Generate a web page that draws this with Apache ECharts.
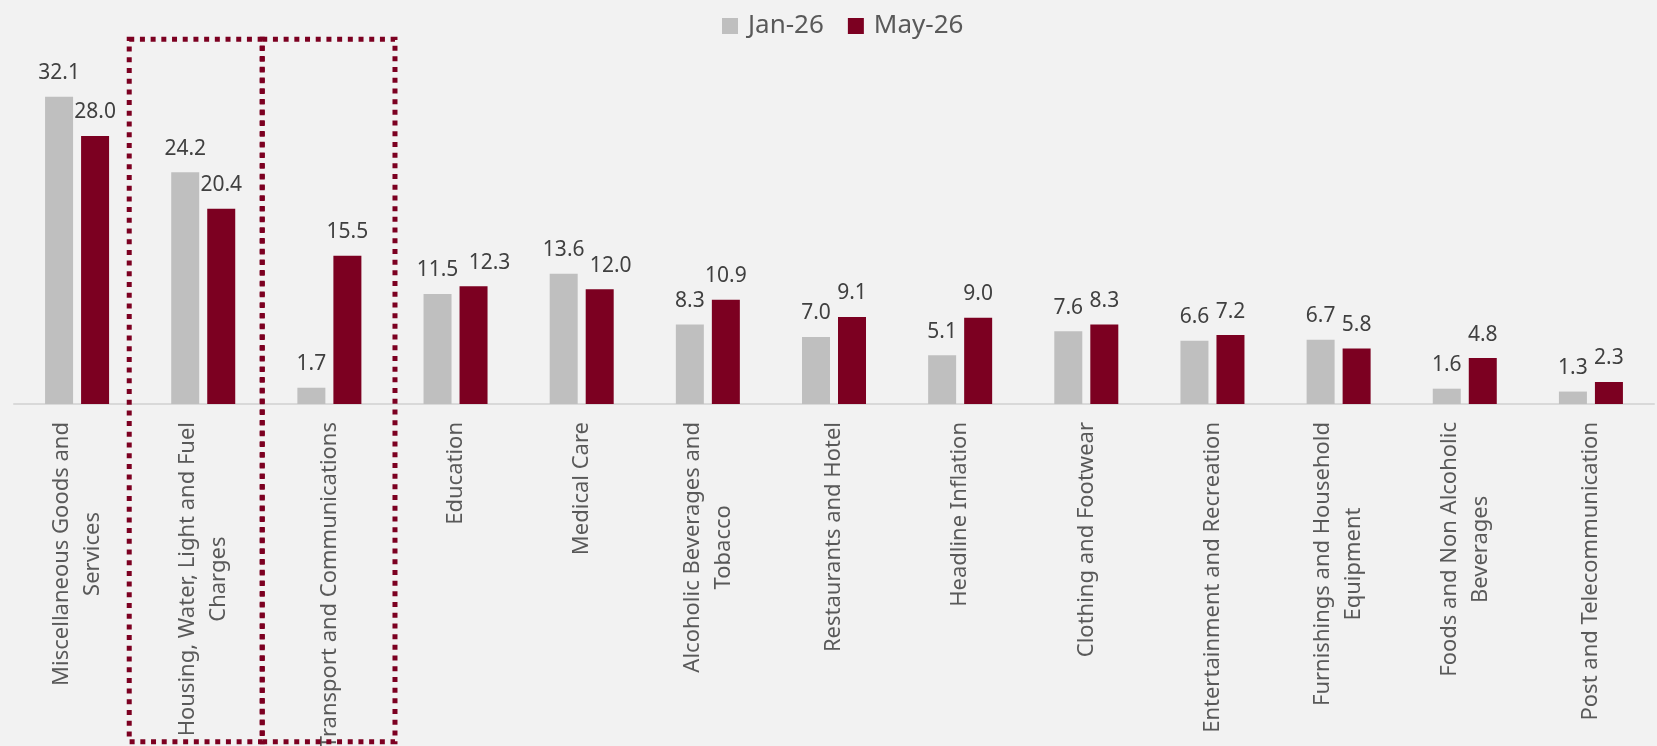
<!DOCTYPE html>
<html>
<head>
<meta charset="utf-8">
<script src="https://cdn.jsdelivr.net/npm/echarts@6/dist/echarts.min.js"></script>
<style>
html,body{margin:0;padding:0;background:#F2F2F2;}
#chart{width:1657px;height:746px;}
</style>
</head>
<body>
<div id="chart"></div>
<script>
const categories = [
  'Miscellaneous Goods and\nServices',
  'Housing, Water, Light and Fuel\nCharges',
  'Transport and Communications',
  'Education',
  'Medical Care',
  'Alcoholic Beverages and\nTobacco',
  'Restaurants and Hotel',
  'Headline Inflation',
  'Clothing and Footwear',
  'Entertainment and Recreation',
  'Furnishings and Household\nEquipment',
  'Foods and Non Alcoholic\nBeverages',
  'Post and Telecommunication'
];
const seriesNames = ['Jan-26', 'May-26'];
const jan26 = [32.1, 24.2, 1.7, 11.5, 13.6, 8.3, 7.0, 5.1, 7.6, 6.6, 6.7, 1.6, 1.3];
const may26 = [28.0, 20.4, 15.5, 12.3, 12.0, 10.9, 9.1, 9.0, 8.3, 7.2, 5.8, 4.8, 2.3];
const highlighted = [1, 2];

const GRAY = '#BFBFBF';
const MAROON = '#7C0021';
const FONT = '"Noto Sans", sans-serif';

const chart = echarts.init(document.getElementById('chart'), null, {renderer: 'canvas'});

const labelStyle = {
  show: true,
  position: 'top',
  distance: 13,
  color: '#404040',
  fontSize: 21,
  fontFamily: FONT,
  formatter: p => p.value.toFixed(1)
};

// labels nudged right where they would collide with the neighbouring label
const labelNudge = {3: 16, 4: 11};
const mayData = may26.map((v, i) => labelNudge[i] ? {value: v, label: {offset: [labelNudge[i], 0]}} : v);

chart.setOption({
  backgroundColor: '#F2F2F2',
  animation: false,
  legend: {
    data: seriesNames,
    left: 717,
    top: 8,
    itemWidth: 16,
    itemHeight: 16,
    itemGap: 24,
    icon: 'rect',
    textStyle: {color: '#595959', fontSize: 26, fontFamily: FONT, padding: [0, 0, 0, 5]}
  },
  grid: {left: 14, right: 3, top: 69, bottom: 342, containLabel: false, outerBoundsMode: 'none'},
  xAxis: {
    type: 'category',
    data: categories,
    axisLine: {show: true, lineStyle: {color: '#D9D9D9', width: 2}},
    axisTick: {show: false},
    axisLabel: {
      rotate: 90,
      interval: 0,
      margin: 18,
      color: '#595959',
      fontSize: 22,
      fontFamily: FONT,
      lineHeight: 31,
      formatter: v => v.split('\n').map(s => '{c|' + s + '}').join('\n'),
      rich: {c: {align: 'center', color: '#595959', fontSize: 22, fontFamily: FONT, lineHeight: 31}}
    }
  },
  yAxis: {
    type: 'value', min: 0, max: 35, show: false,
    splitLine: {show: false}
  },
  series: [
    {name: seriesNames[0], type: 'bar', data: jan26, barWidth: 28, barGap: '28.6%',
     itemStyle: {color: GRAY}, label: labelStyle},
    {name: seriesNames[1], type: 'bar', data: mayData, barWidth: 28, barGap: '28.6%',
     itemStyle: {color: MAROON}, label: labelStyle}
  ]
});

function drawBoxes() {
  const c1 = chart.convertToPixel({xAxisIndex: 0}, categories[highlighted[0]]);
  const c2 = chart.convertToPixel({xAxisIndex: 0}, categories[highlighted[1]]);
  const left = c1 - 74, mid = c1 + 59, right = c2 + 65.6;
  const top = 39.3, bottom = 741.7;
  const st = {fill: null, stroke: MAROON, lineWidth: 5, lineDash: [5, 5.7], lineCap: 'butt'};
  chart.setOption({
    graphic: [
      {type: 'rect', shape: {x: left, y: top, width: mid - left, height: bottom - top}, style: st, z: 100},
      {type: 'rect', shape: {x: mid, y: top, width: right - mid, height: bottom - top}, style: st, z: 100}
    ]
  });
}
drawBoxes();
</script>
</body>
</html>
